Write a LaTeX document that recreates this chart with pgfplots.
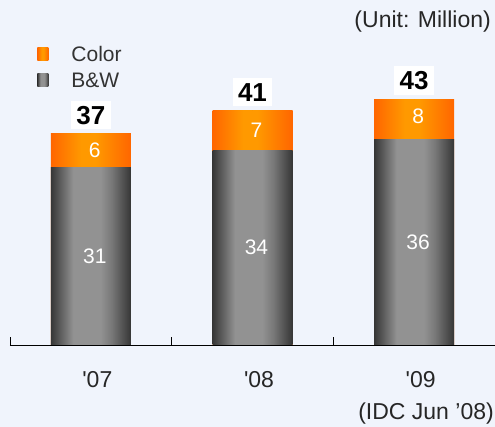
\documentclass[border=0pt]{standalone}
\usepackage{fontspec}
\setmainfont{Liberation Sans}
\usepackage{pgfplots}
\pgfplotsset{compat=1.18}
\usepackage{pgfplotstable}
\definecolor{bg}{RGB}{240,244,252}
\definecolor{gdark}{RGB}{54,54,54}
\definecolor{gmid}{RGB}{120,120,120}
\definecolor{glight}{RGB}{146,146,146}
\definecolor{odark}{RGB}{255,102,0}
\definecolor{olight}{RGB}{255,153,0}

\pgfdeclarehorizontalshading{grayshade}{100bp}{color(0bp)=(gdark); color(25bp)=(gdark); color(39bp)=(glight); color(56bp)=(glight); color(63bp)=(gmid); color(75bp)=(gdark); color(100bp)=(gdark)}
\pgfdeclarehorizontalshading{orangeshade}{100bp}{color(0bp)=(odark); color(25bp)=(odark); color(44bp)=(olight); color(53bp)=(olight); color(75bp)=(odark); color(100bp)=(odark)}

% B&W and Color (million units); totals = B&W + Color
\pgfplotstableread{
x y label
0 15.5 31
1 17 34
2 18 36
0 34 6
1 37.5 7
2 40 8
}\inner
\pgfplotstableread{
x y label
0 37 37
1 41 41
2 43 43
}\totals

\pgfplotsset{
  graybar/.style={draw=none, bar shift=0pt, shading=grayshade},
  orangebar/.style={draw=none, bar shift=0pt, shading=orangeshade},
}

\begin{document}
\begin{tikzpicture}[x=1pt,y=1pt]
\fill[bg] (0,0) rectangle (495,427);
\begin{axis}[
  at={(10pt,82pt)}, anchor=south west, scale only axis,
  width=485pt, height=343.2pt,
  xmin=-0.5, xmax=2.5, ymin=0, ymax=60,
  ybar, bar width=80pt,
  axis x line=bottom, axis y line=none,
  x axis line style={-, black, line width=0.8pt},
  xtick={0,1,2},
  xticklabels={\textquotesingle07,\textquotesingle08,\textquotesingle09},
  major tick length=0pt,
  minor xtick={-0.5,0.5,1.5}, minor tick length=8pt, tick align=inside,
  minor tick style={black, line width=0.8pt},
  xticklabel style={font=\fontsize{23}{27}\selectfont, anchor=center, yshift=-35pt, xshift=6.5pt, text=black!85},
  clip=false,
  legend style={at={(axis description cs:0.05,0.88)}, anchor=north west,
    draw=none, fill=none, font=\fontsize{21}{25}\selectfont, text=black!80,
    nodes={inner sep=1pt, text height=15pt, text depth=0pt}, row sep=9pt},
  legend cell align=left,
]
% Color segment (drawn as total bar, B&W drawn over it)
\addplot[orangebar,
  legend image code/.code={\shade[shading=orangeshade] (0pt,-6.5pt) rectangle (11pt,6.5pt); \path (0pt,0pt) -- (33pt,0pt);}]
  coordinates {(0,37)};
\addlegendentry{Color}
\addplot[orangebar, forget plot] coordinates {(1,41)};
\addplot[orangebar, forget plot] coordinates {(2,43)};
% B&W segment
\addplot[graybar,
  legend image code/.code={\shade[shading=grayshade] (0pt,-6.5pt) rectangle (11pt,6.5pt); \path (0pt,0pt) -- (33pt,0pt);}]
  coordinates {(0,31)};
\addlegendentry{B\&W}
\addplot[graybar, forget plot] coordinates {(1,34)};
\addplot[graybar, forget plot] coordinates {(2,36)};
\end{axis}
\begin{axis}[
  at={(10pt,82pt)}, anchor=south west, scale only axis,
  width=485pt, height=343.2pt,
  xmin=-0.5, xmax=2.5, ymin=0, ymax=60,
  hide axis, clip=false,
]
\addplot[only marks, mark=*, mark size=0pt, mark options={draw=none, fill=none},
  nodes near coords, point meta=explicit symbolic,
  every node near coord/.append style={anchor=center, xshift=4pt, text=white, font=\fontsize{21}{25}\selectfont}]
  table[x=x,y=y,meta=label]{\inner};
\addplot[only marks, mark=*, mark size=0pt, mark options={draw=none, fill=none},
  nodes near coords, point meta=explicit symbolic,
  every node near coord/.append style={anchor=south, yshift=4pt, fill=white, text=black,
    font=\bfseries\fontsize{26}{30}\selectfont, inner xsep=5.5pt, inner ysep=5pt,
    text height=18.6pt, text depth=0pt}]
  table[x=x,y=y,meta=label]{\totals};
\end{axis}
\node[anchor=east, font=\fontsize{23}{27}\selectfont, text=black!85, inner sep=0pt] at (491,405.5) {(Unit: Million)};
\node[anchor=east, font=\fontsize{23}{27}\selectfont, text=black!85, inner sep=0pt] at (494,13) {(IDC Jun ’08)};
\pgfresetboundingbox
\useasboundingbox (0,0) rectangle (495,427);
\end{tikzpicture}
\end{document}
